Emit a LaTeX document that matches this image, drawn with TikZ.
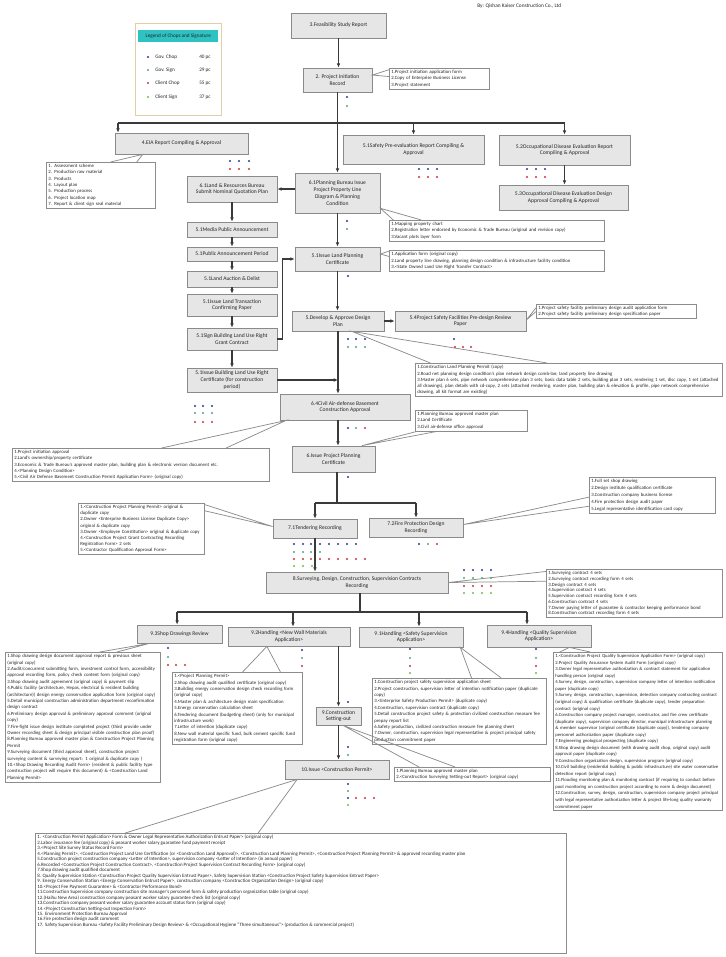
\documentclass[tikz,border=0pt]{standalone}
\usepackage{fontspec}
\setmainfont{Carlito}
\usetikzlibrary{arrows.meta,calc}
\hyphenpenalty=10000
\exhyphenpenalty=10000
\definecolor{boxfill}{HTML}{E6E6E6}
\definecolor{boxline}{HTML}{8A8A8A}
\definecolor{noteline}{HTML}{8C8C8C}
\definecolor{conncol}{HTML}{3A3A3A}
\definecolor{txt}{HTML}{262626}
\definecolor{cnavy}{HTML}{283C8C}
\definecolor{cteal}{HTML}{5A9E8A}
\definecolor{cred}{HTML}{C8323C}
\definecolor{cgreen}{HTML}{6CBF4F}
\definecolor{legteal}{HTML}{2EC2C2}
\definecolor{legline}{HTML}{E2CFA8}
\newcommand\mfont{\fontsize{4.2}{5.1}\selectfont}
\newcommand\nfont{\fontsize{3.6}{4.7}\selectfont}
\newcommand\mycall[3]{\draw[callst] (#2) -- (#1) -- (#3);}
\tikzset{
  wh/.style 2 args={minimum width=#1*0.75pt, minimum height=#2*0.75pt},
  mbox/.style={draw=boxline, fill=boxfill, line width=0.6pt, align=center, font=\mfont, text=txt, inner sep=1pt},
  nbox/.style={draw=noteline, fill=white, line width=0.5pt, align=left, font=\nfont, text=txt, inner sep=1.5pt, anchor=north west},
  conn/.style={draw=conncol, line width=1pt},
  arr/.style={conn, -{Latex[length=3.2pt,width=2.8pt]}},
  callst/.style={draw=noteline, line width=0.55pt},
  legtext/.style={font=\fontsize{3.9}{4.5}\selectfont, text=txt, inner sep=0pt, anchor=west}
}
\begin{document}
\begin{tikzpicture}[x=0.75pt,y=-0.75pt]
\useasboundingbox (0,0) rectangle (725,957);
\fill[white] (0,0) rectangle (725,957);

% header
\node[font=\fontsize{4}{5}\selectfont, text=txt, anchor=west, inner sep=0pt] (hdr) at (477,6) {By: Qishan Kaiser Construction Co., Ltd};

% legend
\node[draw=legline, fill=white, line width=0.7pt, wh={86}{92}, anchor=north west, inner sep=0pt] (leg) at (135,23) {};
\node[fill=legteal, wh={80}{12}, anchor=north west, inner sep=0pt, font=\fontsize{3.9}{4.5}\selectfont, text=txt] (legt) at (138,30) {Legend of Chops and Signature};
\fill[cnavy] (148,57) circle (0.9pt);
\node[legtext] (lg1) at (155,57) {Gov. Chop};
\node[legtext] (lc1) at (199,57) {40 pc};
\fill[cteal] (148,70) circle (0.9pt);
\node[legtext] (lg2) at (155,70) {Gov. Sign};
\node[legtext] (lc2) at (199,70) {29 pc};
\fill[cred] (148,83) circle (0.9pt);
\node[legtext] (lg3) at (155,83) {Client Chop};
\node[legtext] (lc3) at (199,83) {55 pc};
\fill[cgreen] (148,97) circle (0.9pt);
\node[legtext] (lg4) at (155,97) {Client Sign};
\node[legtext] (lc4) at (199,97) {37 pc};

% main boxes
\node[mbox, wh={95}{25}] (F) at (338.5,25.5) {3.Feasibility Study Report};
\node[mbox, wh={69}{24}] (P2) at (337.5,80) {2. Project Initiation\\Record};
\node[mbox, wh={133}{21}] (EIA) at (181.5,143.5) {4.EIA Report Compiling \& Approval};
\node[mbox, wh={141}{29}] (S51) at (413.5,149.5) {5.1Safety Pre-evaluation Report Compiling \&\\Approval};
\node[mbox, wh={131}{30}] (S52) at (564.5,150) {5.2Occupational Disease Evaluation Report\\Compiling \& Approval};
\node[mbox, wh={129}{25}] (S53) at (563.5,197.5) {5.3Occupational Disease Evaluation Design\\Approval Compiling \& Approval};
\node[mbox, wh={85}{40}] (B61) at (337.5,193) {6.1Planning Bureau Issue\\Project Property Line\\Diagram \& Planning\\Condition};
\node[mbox, wh={90}{26}] (L61) at (232,189) {6.1Land \& Resources Bureau\\Submit Nominal Quotation Plan};
\node[mbox, wh={90}{15}] (M1) at (232,229.5) {5.1Media Public Announcement};
\node[mbox, wh={90}{14}] (M2) at (232,254) {5.1Public Announcement Period};
\node[mbox, wh={90}{16}] (M3) at (232,279) {5.1Land Auction \& Delist};
\node[mbox, wh={90}{22}] (M4) at (232,305) {5.1Issue Land Transaction\\Confirming Paper};
\node[mbox, wh={90}{22}] (M5) at (232,339) {5.1Sign Building Land Use Right\\Grant Contract};
\node[mbox, wh={90}{24}] (M6) at (232,380) {5.1Issue Building Land Use Right\\Certificate (for construction\\period)};
\node[mbox, wh={85}{24}] (ILP) at (337.5,259) {5.1Issue Land Planning\\Certificate};
\node[mbox, wh={92}{20}] (DEV) at (338,321) {5.Develop \& Approve Design\\Plan};
\node[mbox, wh={131}{20}] (P54) at (460.5,321) {5.4Project Safety Facilities Pre-design Review\\Paper};
\node[mbox, wh={130}{26}] (C64) at (345,407) {6.4Civil Air-defense Basement\\Construction Approval};
\node[mbox, wh={83}{26}] (IPP) at (333.5,459) {6.Issue Project Planning\\Certificate};
\node[mbox, wh={84}{19}] (T71) at (315,528.5) {7.1Tendering Recording};
\node[mbox, wh={94}{19}] (T72) at (416,527.5) {7.2Fire Protection Design\\Recording};
\node[mbox, wh={182}{21}] (S8) at (357,582.5) {8.Surveying, Design, Construction, Supervision Contracts\\Recording};
\node[mbox, wh={85}{18}] (N93) at (179.5,634) {9.3Shop Drawings Review};
\node[mbox, wh={122}{19}] (N92) at (289,636.5) {9.2Handling <New Wall Materials\\Application>};
\node[mbox, wh={104}{20}] (N91) at (411,637) {9.1Handling <Safety Supervision\\Application>};
\node[mbox, wh={104}{22}] (N94) at (539,636) {9.4Handling <Quality Supervision\\Application>};
\node[mbox, wh={45}{18}] (C9) at (338.5,716) {9.Construction\\Setting-out};
\node[mbox, wh={104}{19}] (P10) at (337,769.5) {10.Issue <Construction Permit>};

% note boxes
\node[nbox, text width=72pt] (nP2) at (389,68) {1.Project initiation application form\\2.Copy of Enterprise Business License\\3.Project statement};
\node[nbox, text width=78.5pt] (nEIA) at (46,162) {1. Assessment scheme\\2. Production raw material\\3. Products\\4. Layout plan\\5. Production process\\6. Project location map\\7. Report \& client sign seal material};
\node[nbox, text width=158pt] (n61) at (389,220) {1.Mapping property chart\\2.Registration letter endorsed by Economic \& Trade Bureau (original and revision copy)\\3.Vacant plots layer form};
\node[nbox, text width=158pt] (nILP) at (389,250) {1.Application form (original copy)\\2.Land property line drawing, planning design condition \& infrastructure facility condition\\3.<State Owned Land Use Right Transfer Contract>};
\node[nbox, text width=117pt] (n54) at (536,304) {1.Project safety facility preliminary design audit application form\\2.Project safety facility preliminary design specification paper};
\node[nbox, text width=227pt] (nDEV) at (415,363) {1.Construction Land Planning Permit (copy)\\2.Road net planning design condition's plan network design comb-lan; land property line drawing\\3.Master plan 6 sets, pipe network comprehensive plan 3 sets, basic data table 2 sets, building plan 3 sets, rendering 1 set, disc copy, 1 set (attached all drawings), plan details with cd-copy, 2 sets (attached rendering, master plan, building plan \& elevation \& profile, pipe network comprehensive drawing, all kit format are existing)};
\node[nbox, text width=81pt] (n64r) at (415,410) {1.Planning Bureau approved master plan\\2.Land Certificate\\3.Civil air-defense office approval};
\node[nbox, text width=190pt] (n64l) at (12,448) {1.Project initiation approval\\2.Land's ownership/property certificate\\3.Economic \& Trade Bureau's approved master plan, building plan \& electronic version document etc.\\4.<Planning Design Condition>\\5.<Civil Air Defense Basement Construction Permit Application Form> (original copy)};
\node[nbox, text width=91.5pt, font=\fontsize{3.6}{4.6}\selectfont] (n71) at (78,503) {1.<Construction Project Planning Permit> original \& duplicate copy\\2.Owner <Enterprise Business License Duplicate Copy> original \& duplicate copy\\3.Owner <Employee Constitution> original \& duplicate copy\\4.<Construction Project Grant Contracting Recording Registration Form> 2 sets\\5.<Contractor Qualification Approval Form>};
\node[nbox, text width=91.5pt, font=\fontsize{3.6}{5.2}\selectfont] (n72) at (589,477) {1.Full set shop drawing\\2.Design institute qualification certificate\\3.Construction company business license\\4.Fire protection design audit paper\\5.Legal representative identification card copy};
\node[nbox, text width=129pt, font=\fontsize{3.6}{4.3}\selectfont] (n8) at (546,569) {1.Surveying contract 4 sets\\2.Surveying contract recording form 4 sets\\3.Design contract 4 sets\\4.Supervision contract 4 sets\\5.Supervision contract recording form 4 sets\\6.Construction contract 4 sets\\7.Owner paying letter of guarantee \& contractor keeping performance bond\\8.Construction contract recording form 4 sets};
\node[nbox, text width=113pt, font=\fontsize{3.6}{4.8}\selectfont] (n93) at (5,652) {1.Shop drawing design document approval report \& previous sheet (original copy)\\2.Audit/concurrent submitting form, investment control form, accessibility approval recording form, policy check content form (original copy)\\3.Shop drawing audit agreement (original copy) \& payment slip\\4.Public facility (architecture, Hepas, electrical \& resident building (architecture)) design energy conservation application form (original copy)\\5.Detail municipal construction administration department reconfirmation design contract\\6.Preliminary design approval \& preliminary approval comment (original copy)\\7.Fire-fight issue design institute completed project (third provide under Owner recording sheet \& design principal visible construction plan proof)\\8.Planning Bureau approved master plan \& Construction Project Planning Permit\\9.Surveying document (third approval sheet), construction project surveying content \& surveying report: 1 original \& duplicate copy )\\10.<Shop Drawing Recording Audit Form> (resident \& public facility type construction project will require this document) \& <Construction Land Planning Permit>};
\node[nbox, text width=94.5pt, font=\fontsize{3.6}{4.8}\selectfont] (n92) at (172,672) {1.<Project Planning Permit>\\2.Shop drawing audit qualified certificate (original copy)\\3.Building energy conservation design check recording form (original copy)\\4.Master plan \& architecture design main specification\\5.Energy conservation calculation sheet\\6.Tendering document (budgeting sheet) (only for municipal infrastructure work)\\7.Letter of intention (duplicate copy)\\8.New wall material specific fund, bulk cement specific fund registration form (original copy)};
\node[nbox, text width=127.5pt, font=\fontsize{3.6}{4.8}\selectfont] (n91) at (372,678) {1.Construction project safety supervision application sheet\\2.Project construction, supervision letter of intention notification paper (duplicate copy)\\3.<Enterprise Safety Production Permit> (duplicate copy)\\4.Construction, supervision contract (duplicate copy)\\5.Detail construction project safety \& protection civilized construction measure fee prepay report list\\6.Safety production, civilized construction measure fee planning sheet\\7.Owner, construction, supervision legal representative \& project principal safety production commitment paper};
\node[nbox, text width=123.5pt, font=\fontsize{3.5}{4.9}\selectfont] (n94) at (553,652) {1.<Construction Project Quality Supervision Application Form> (original copy)\\2.Project Quality Assurance System Audit Form (original copy)\\3.Owner legal representative authorization \& contract statement for application handling person (original copy)\\4.Survey, design, construction, supervision company letter of intention notification paper (duplicate copy)\\5.Survey, design, construction, supervision, detection company contracting contract (original copy) \& qualification certificate (duplicate copy), tender preparation contract (original copy)\\6.Construction company project manager, constructor, and fire crew certificate (duplicate copy), supervision company director, municipal infrastructure planning \& member supervisor (original certificate (duplicate copy)), tendering company personnel authorization paper (duplicate copy)\\7.Engineering geological prospecting (duplicate copy)\\8.Shop drawing design document (with drawing audit chop, original copy) audit approval paper (duplicate copy)\\9.Construction organization design, supervision program (original copy)\\10.Civil building (residential building \& public infrastructure) site water conservative detection report (original copy)\\11.Flooding monitoring plan \& monitoring contract (if requiring to conduct before pool monitoring on construction project according to norm \& design document)\\12.Construction, survey, design, construction, supervision company project principal with legal representative authorization letter \& project life-long quality warranty commitment paper};
\node[nbox, text width=114pt] (n9) at (394,767) {1.Planning Bureau approved master plan\\2.<Construction Surveying Setting-out Report> (original copy)};
\node[nbox, font=\fontsize{3.7}{4.1}\selectfont] (n10) at (35,833) {\parbox[t][87pt][t]{395pt}{\raggedright
1. <Construction Permit Application> Form \& Owner Legal Representative Authorization Entrust Paper> (original copy)\\
2.Labor insurance fee (original copy) \& peasant worker salary guarantee fund payment receipt\\
3.<Project Site Survey Status Record Form>\\
4.<Planning Permit>, <Construction Project Land Use Certification (or <Construction Land Approval)>, <Construction Land Planning Permit>, <Construction Project Planning Permit> \& approved recording master plan\\
5.Construction project construction company <Letter of Intention>, supervision company <Letter of Intention> (in annual paper)\\
6.Recorded <Construction Project Construction Contract>, <Construction Project Supervision Contract Recording Form> (original copy)\\
7.Shop drawing audit qualified document\\
8. Quality Supervision Station <Construction Project Quality Supervision Entrust Paper>, Safety Supervision Station <Construction Project Safety Supervision Entrust Paper>\\
9. Energy Conservation Station <Energy Conservation Entrust Paper>, construction company <Construction Organization Design> (original copy)\\
10.<Project Fee Payment Guarantee> \& <Contractor Performance Bond>\\
11.Construction Supervision company construction site manager's personnel form \& safety production organization table (original copy)\\
12.(Haihu New Area) construction company peasant worker salary guarantee check list (original copy)\\
13.Construction company peasant worker salary guarantee account status form (original copy)\\
14.<Project Construction Setting-out Inspection Form>\\
15. Environment Protection Bureau Approval\\
16.Fire protection design audit comment\\
17. Safety Supervision Bureau <Safety Facility Preliminary Design Review> \& <Occupational Hygiene "Three simultaneous"> (production \& commercial project)}};

% connectors
\draw[arr] (F.south) -- (F.south |- P2.north);
\draw[arr] (P2.south) -- (P2.south |- B61.north);
\coordinate (j1) at (118,123);
\coordinate (j2) at (564.5,123);
\draw[conn] (j1) -- (j2);
\draw[arr] (j1) -- (j1 |- EIA.north);
\draw[arr] (S51.north |- j1) -- (S51.north);
\draw[arr] (j2) -- (S52.north);
\draw[arr] (S52.south) -- (S52.south |- S53.north);
\draw[arr] (B61.west |- L61.east) -- (L61.east);
\draw[arr] (L61.south) -- (M1.north);
\draw[arr] (M1.south) -- (M2.north);
\draw[arr] (M2.south) -- (M3.north);
\draw[arr] (M3.south) -- (M4.north);
\draw[arr] (M4.south) -- (M5.north);
\draw[arr] (M5.south) -- (M6.north);
\draw[arr] (M5.east) -- ++(5,0) |- (ILP.west);
\draw[arr] (B61.south) -- (ILP.north);
\draw[arr] (ILP.south) -- (ILP.south |- DEV.north);
\draw[arr] (DEV.east) -- (P54.west);
\draw[arr] (DEV.south) -- (DEV.south |- C64.north);
\draw[arr] (M6.east) -- (M6.east -| DEV.south);
\draw[arr] (DEV.south |- C64.south) -- (DEV.south |- IPP.north);
\coordinate (j3) at (337,503);
\draw[conn] (IPP.south -| j3) -- (j3);
\draw[conn] (T71.north |- j3) -- (T72.north |- j3);
\draw[arr] (T71.north |- j3) -- (T71.north);
\draw[arr] (T72.north |- j3) -- (T72.north);
\draw[arr] (T71.south) -- (T71.south |- S8.north);
\coordinate (j4) at (360,612);
\coordinate (a93) at ([xshift=-1.8pt]N93.north);
\coordinate (a92) at ([xshift=3pt]N92.north);
\coordinate (a91) at ([xshift=6pt]N91.north);
\coordinate (a94) at ([xshift=-9pt]N94.north);
\draw[conn] (S8.south -| j4) -- (j4);
\draw[conn] (a93 |- j4) -- (a94 |- j4);
\draw[arr] (a93 |- j4) -- (a93);
\draw[arr] (a92 |- j4) -- (a92);
\draw[arr] (a91 |- j4) -- (a91);
\draw[arr] (a94 |- j4) -- (a94);
\draw[arr] (N92.south -| C9.north) -- (C9.north);
\draw[arr] (C9.south) -- (C9.south |- P10.north);

% callouts
\mycall{$(P2.north east)!0.3!(P2.south east)$}{$(nP2.north west)!0.08!(nP2.south west)$}{$(nP2.north west)!0.4!(nP2.south west)$}
\mycall{$(EIA.south west)!0.21!(EIA.south east)$}{$(nEIA.north west)!0.59!(nEIA.north east)$}{$(nEIA.north west)!0.83!(nEIA.north east)$}
\mycall{$(B61.north east)!0.875!(B61.south east)$}{$(n61.north west)!0.02!(n61.north east)$}{$(n61.north west)!0.15!(n61.north east)$}
\mycall{$(ILP.north east)!0.3!(ILP.south east)$}{$(nILP.north west)!0.05!(nILP.south west)$}{$(nILP.north west)!0.3!(nILP.south west)$}
\mycall{$(DEV.south west)!0.65!(DEV.south east)$}{$(nDEV.north west)!0.05!(nDEV.north east)$}{$(nDEV.north west)!0.43!(nDEV.north east)$}
\mycall{$(P54.north east)!0.45!(P54.south east)$}{$(n54.north west)!0.25!(n54.south west)$}{$(n54.north west)!0.5!(n54.south west)$}
\mycall{$(C64.south west)!0.05!(C64.south east)$}{$(n64l.north west)!0.58!(n64l.north east)$}{$(n64l.north west)!0.83!(n64l.north east)$}
\mycall{$(IPP.north west)!0.84!(IPP.north east)$}{$(n64r.south west)!0.02!(n64r.south east)$}{$(n64r.south west)!0.2!(n64r.south east)$}
\mycall{$(T71.north west)!0.4!(T71.south west)$}{$(n71.north east)!0.03!(n71.south east)$}{$(n71.north east)!0.15!(n71.south east)$}
\mycall{$(T72.north east)!0.35!(T72.south east)$}{$(n72.north west)!0.55!(n72.south west)$}{$(n72.north west)!0.8!(n72.south west)$}
\mycall{$(S8.north east)!0.5!(S8.south east)$}{$(n8.north west)!0.05!(n8.south west)$}{$(n8.north west)!0.25!(n8.south west)$}
\mycall{$(N93.south west)!0.15!(N93.south east)$}{$(n93.north west)!0.61!(n93.north east)$}{$(n93.north west)!0.72!(n93.north east)$}
\mycall{$(N92.south west)!0.32!(N92.south east)$}{$(n92.north west)!0.54!(n92.north east)$}{$(n92.north west)!0.83!(n92.north east)$}
\mycall{$(N91.south west)!0.97!(N91.south east)$}{$(n91.north west)!0.57!(n91.north east)$}{$(n91.north west)!0.74!(n91.north east)$}
\mycall{$(N94.south west)!0.79!(N94.south east)$}{$(n94.north west)!0.04!(n94.north east)$}{$(n94.north west)!0.22!(n94.north east)$}
\mycall{$(C9.south west)!0.6!(C9.south east)$}{$(n9.north west)!0.16!(n9.north east)$}{$(n9.north west)!0.39!(n9.north east)$}
\mycall{$(P10.south west)!0.12!(P10.south east)$}{$(n10.north west)!0.17!(n10.north east)$}{$(n10.north west)!0.42!(n10.north east)$}

% chop / signature dots
\def\dr{0.85pt}
\fill[cnavy] (347,97) circle (\dr); \fill[cteal] (347,106) circle (\dr);
\foreach \xx in {419,428,437,527,536,545} {\fill[cnavy] (\xx,169) circle (\dr); \fill[cred] (\xx,177) circle (\dr);}
\foreach \xx in {230,239,249} {\fill[cnavy] (\xx,161) circle (\dr); \fill[cred] (\xx,169) circle (\dr);}
\fill[cnavy] (347,221) circle (\dr); \fill[cteal] (347,229) circle (\dr);
\fill[cnavy] (348,276) circle (\dr);
\foreach \xx in {348,356,365} {\fill[cnavy] (\xx,339) circle (\dr); \fill[cteal] (\xx,347) circle (\dr);}
\fill[cnavy] (454,339) circle (\dr);
\foreach \xx in {455,463,471} {\fill[cred] (\xx,347) circle (\dr);}
\foreach \xx in {195,203,212} {\fill[cnavy] (\xx,406) circle (\dr); \fill[cteal] (\xx,413) circle (\dr); \fill[cred] (\xx,422) circle (\dr);}
\fill[cnavy] (348,428) circle (\dr); \fill[cteal] (356,428) circle (\dr); \fill[cred] (365,428) circle (\dr);
\fill[cnavy] (348,477) circle (\dr);
\foreach \xx in {294,303,311,320,329,338,347,356} {\fill[cnavy] (\xx,544) circle (\dr);}
\foreach \xx in {294,303,311,320} {\fill[cteal] (\xx,552) circle (\dr);}
\foreach \xx in {294,303,311,320,329,338,347,356,365} {\fill[cred] (\xx,559) circle (\dr);}
\foreach \xx in {294,303,312} {\fill[cgreen] (\xx,566) circle (\dr);}
\fill[cnavy] (419,544) circle (\dr); \fill[cteal] (428,544) circle (\dr); \fill[cred] (437,544) circle (\dr);
\foreach \xx in {464,473,482,491} {\fill[cnavy] (\xx,570) circle (\dr); \fill[cteal] (\xx,578) circle (\dr); \fill[cred] (\xx,586) circle (\dr); \fill[cgreen] (\xx,593) circle (\dr);}
\fill[cnavy] (168,648) circle (\dr); \fill[cteal] (168,657) circle (\dr);
\foreach \xx in {168,176,185} {\fill[cred] (\xx,665) circle (\dr);}
\fill[cnavy] (302,650) circle (\dr); \fill[cteal] (302,658) circle (\dr); \fill[cred] (302,666) circle (\dr);
\foreach \xx in {410,536} {\fill[cnavy] (\xx,649) circle (\dr); \fill[cteal] (\xx,658) circle (\dr); \fill[cred] (\xx,666) circle (\dr); \fill[cgreen] (\xx,673) circle (\dr);}
\fill[cnavy] (348,702) circle (\dr);
\fill[cnavy] (348,747) circle (\dr); \fill[cteal] (348,755) circle (\dr);
\fill[cnavy] (348,784) circle (\dr); \fill[cteal] (348,791) circle (\dr);
\fill[cnavy] (348,798) circle (\dr);
\foreach \xx in {356,365,374} {\fill[cred] (\xx,798) circle (\dr);}
\fill[cgreen] (348,805) circle (\dr);
\end{tikzpicture}
\end{document}
